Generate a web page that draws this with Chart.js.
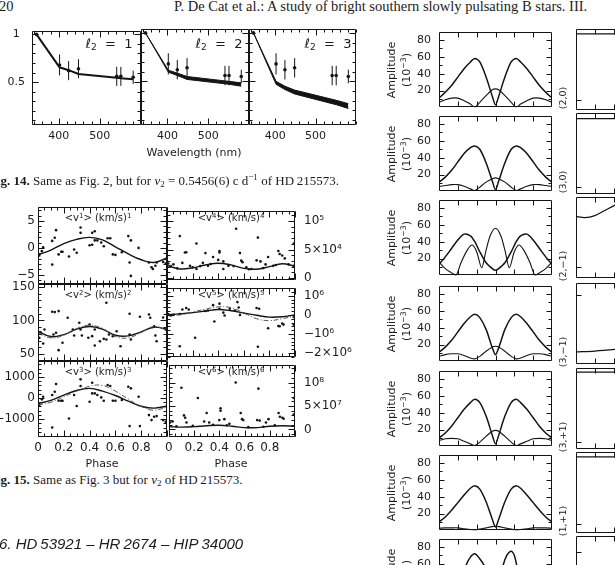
<!DOCTYPE html>
<html>
<head>
<meta charset="utf-8">
<script src="https://cdn.jsdelivr.net/npm/chart.js@4.4.1/dist/chart.umd.min.js"></script>
<style>
  html, body { margin: 0; padding: 0; background: #fff; }
  body { width: 615px; height: 565px; overflow: hidden; position: relative; font-family: "DejaVu Sans", sans-serif; color: #1c1c1c; }
  .panel { position: absolute; }
  .txt { position: absolute; white-space: nowrap; line-height: 1; }
  .txt sup { font-size: 70%; vertical-align: 0.45em; line-height: 0; }
  .txt sub { font-size: 70%; vertical-align: -0.25em; line-height: 0; }
</style>
</head>
<body>
<script>
// Fig. 14: normalised amplitudes per Geneva filter
const wavelengths = [346, 402, 424, 448, 541, 551, 581];
const ampObs = [1, 0.68, 0.62, 0.64, 0.56, 0.56, 0.55];
const ampErr = [0, 0.11, 0.1, 0.1, 0.1, 0.1, 0.07];
const modelL1 = [1, 0.655, 0.625, 0.585, 0.545, 0.54, 0.53];
const modelL2Hi = [1, 0.615, 0.585, 0.55, 0.505, 0.5, 0.485];
const modelL2Lo = [1, 0.595, 0.56, 0.52, 0.475, 0.47, 0.45];
const modelL3Hi = [1, 0.5, 0.45, 0.41, 0.315, 0.305, 0.27];
const modelL3Lo = [1, 0.47, 0.415, 0.37, 0.27, 0.26, 0.22];
const wlTicks = [400, 500];
const wlLabels = ['400', '500'];
const amp14Ticks = [0.5, 1];
const amp14Labels = ['0.5', '1'];

// Fig. 15: moments vs phase
const phaseGrid = [0, 0.1, 0.2, 0.3, 0.4, 0.5, 0.6, 0.7, 0.8, 0.9, 1];
const phaseTicks = [0, 0.2, 0.4, 0.6, 0.8, 1];
const phaseLabels = ['0', '0.2', '0.4', '0.6', '0.8', ''];

const v1Points = [[0.01,-1.4],[0.03,-0.6],[0.04,0.1],[0.11,1.3],[0.11,-3.1],[0.13,1.9],[0.14,3.3],[0.16,-1.2],[0.18,-0.7],[0.19,-0.7],[0.24,-1.6],[0.28,-0.3],[0.30,-0.9],[0.33,3.8],[0.33,2.8],[0.40,0.5],[0.42,0.6],[0.42,2.8],[0.44,3.1],[0.44,1.4],[0.46,1.4],[0.49,1.0],[0.51,0.3],[0.54,1.8],[0.56,1.8],[0.58,-1.2],[0.60,-1.3],[0.65,-0.8],[0.70,2.2],[0.72,1.4],[0.71,-2.7],[0.72,-5.2],[0.78,0.0],[0.86,-2.7],[0.88,-3.6],[0.89,-3.9],[0.91,-3.3],[0.92,-2.7],[0.97,-2.6],[0.99,-2.9]];
const v1Fit = [-1.3, -0.4, 0.8, 1.6, 1.95, 1.5, 0.2, -1.1, -2.2, -2.7, -1.8];
const v1Ticks = [-5, 0, 5];
const v1Labels = ['\u22125', '0', '5'];

const v2Points = [[0.01,74],[0.02,82.5],[0.04,65.7],[0.05,86.6],[0.11,113],[0.13,112.5],[0.16,114],[0.12,79],[0.14,81.6],[0.16,55.7],[0.19,66.7],[0.23,104],[0.27,86.6],[0.28,77.6],[0.32,96.6],[0.33,86.6],[0.34,77.6],[0.39,74.2],[0.40,94],[0.42,76.6],[0.44,62.7],[0.44,86.6],[0.48,69],[0.51,72.6],[0.53,71.6],[0.53,126.4],[0.55,79],[0.58,76.6],[0.61,84],[0.64,61.6],[0.71,110],[0.72,71.6],[0.71,79],[0.79,105.5],[0.86,109],[0.87,104],[0.90,91.5],[0.91,77.6],[0.92,69],[0.97,104.5],[0.99,86.6]];
const v2Fit = [84, 76, 79, 87, 91, 87, 78, 77, 83, 90, 87];
const v2Model = [81, 74, 78, 88, 93, 88, 76, 74, 82, 91, 85];
const v2Ticks = [50, 100, 150];
const v2Labels = ['50', '100', '150'];

const v3Points = [[0.01,-333],[0.03,-62],[0.04,62],[0.11,143],[0.11,-1397],[0.13,302],[0.14,667],[0.16,-127],[0.18,-127],[0.19,-127],[0.24,-968],[0.28,143],[0.30,-381],[0.33,889],[0.33,571],[0.40,-175],[0.42,222],[0.42,730],[0.44,222],[0.46,143],[0.49,32],[0.51,-127],[0.54,619],[0.56,571],[0.58,-127],[0.60,-127],[0.65,-95],[0.70,540],[0.72,460],[0.71,-1333],[0.78,63],[0.79,-1333],[0.86,-810],[0.88,-1048],[0.90,-889],[0.92,-857],[0.97,-1048],[0.99,-1127]];
const v3Fit = [-260, -110, 140, 360, 460, 330, 120, -150, -390, -480, -380];
const v3Model = [-330, -200, 60, 330, 560, 600, 330, -50, -400, -580, -420];
const v3Ticks = [-1000, 0, 1000];
const v3Labels = ['\u22121000', '0', '1000'];

const v4Points = [[0.01,25500],[0.03,21000],[0.05,24000],[0.08,17000],[0.10,73400],[0.12,26600],[0.14,44800],[0.15,45300],[0.18,21400],[0.20,18750],[0.23,16000],[0.23,60400],[0.26,21000],[0.28,26600],[0.30,43700],[0.32,21400],[0.34,24500],[0.36,37000],[0.40,31800],[0.41,47400],[0.41,44800],[0.44,29200],[0.44,16000],[0.48,21400],[0.52,21000],[0.54,86400],[0.57,43700],[0.58,30500],[0.59,27900],[0.62,18750],[0.64,15500],[0.66,16000],[0.70,31000],[0.71,70800],[0.73,29200],[0.75,17500],[0.77,23900],[0.79,37000],[0.83,21400],[0.85,23000],[0.87,47400],[0.88,42200],[0.90,39600],[0.92,34400],[0.95,23900],[0.99,60400],[0.99,21400]];
const v4Fit = [22000, 16000, 18000, 23000, 26000, 23000, 17000, 15500, 20000, 25000, 21000];
const v4Ticks = [0, 50000, 100000];
const v4Labels = ['0', '5\u00d710\u2074', '10\u2075'];

const v5Points = [[0.01,0.05e6],[0.03,-0.03e6],[0.05,0],[0.10,0.05e6],[0.10,-1.65e6],[0.12,0.28e6],[0.15,0.36e6],[0.17,0.28e6],[0.22,-1.2e6],[0.30,0.2e6],[0.32,0.23e6],[0.36,0.51e6],[0.37,-0.35e6],[0.41,0.32e6],[0.41,0.59e6],[0.44,0.12e6],[0.45,-0.03e6],[0.49,0.32e6],[0.53,0.23e6],[0.55,0.67e6],[0.56,0.39e6],[0.57,0],[0.70,0.36e6],[0.71,-1.67e6],[0.72,0.32e6],[0.79,-0.7e6],[0.87,-0.58e6],[0.88,-0.6e6],[0.90,-0.45e6],[0.91,-0.51e6],[0.99,-0.11e6],[0.99,-0.51e6]];
const v5Fit = [0, 0.05e6, 0.12e6, 0.2e6, 0.28e6, 0.22e6, 0.1e6, -0.02e6, -0.12e6, -0.1e6, 0];
const v5Model = [-0.05e6, 0, 0.15e6, 0.3e6, 0.42e6, 0.38e6, 0.1e6, -0.2e6, -0.3e6, -0.2e6, -0.05e6];
const v5Ticks = [-2e6, -1e6, 0, 1e6];
const v5Labels = ['\u22122\u00d710\u2076', '\u221210\u2076', '0', '10\u2076'];

const v6Points = [[0.01,0.15e8],[0.03,0.17e8],[0.06,0.07e8],[0.10,0.89e8],[0.12,0.3e8],[0.13,0.25e8],[0.14,0.15e8],[0.19,0.08e8],[0.23,0.67e8],[0.28,0.17e8],[0.30,0.35e8],[0.32,0.15e8],[0.35,0.1e8],[0.40,0.2e8],[0.41,0.45e8],[0.41,0.4e8],[0.44,0.22e8],[0.46,0.09e8],[0.48,0.12e8],[0.53,1.0e8],[0.57,0.35e8],[0.58,0.22e8],[0.59,0.2e8],[0.63,0.05e8],[0.70,0.2e8],[0.71,0.87e8],[0.72,0.19e8],[0.75,0.06e8],[0.77,0.15e8],[0.79,0.22e8],[0.84,0.09e8],[0.87,0.35e8],[0.88,0.27e8],[0.90,0.25e8],[0.91,0.23e8],[0.99,0.67e8],[0.99,0.32e8]];
const v6Fit = [6e6, 5e6, 6e6, 8e6, 9e6, 7e6, 4e6, 4e6, 7e6, 8e6, 7e6];
const v6Ticks = [0, 5e7, 1e8];
const v6Labels = ['0', '5\u00d710\u2077', '10\u2078'];

// Right figure: amplitude vs angle for each (l,m) mode
const angleGrid = [0, 10, 20, 30, 40, 50, 57, 65, 75, 85, 90, 95, 105, 115, 123, 130, 140, 150, 160, 170, 180];
const amp20Thick = [11, 18, 26, 36, 46, 54, 58, 54, 36, 13, 3, 13, 36, 54, 58, 54, 46, 36, 26, 18, 11];
const amp20Thin = [6, 9, 11, 11, 8, 4, 0.5, 6, 14, 21, 22, 21, 14, 6, 0.5, 4, 8, 11, 11, 9, 6];
const amp30Thick = [11, 17, 25, 35, 45, 52, 54, 50, 34, 12, 2, 12, 34, 50, 54, 52, 45, 35, 25, 17, 11];
const amp30Thin = [6, 7, 8, 8, 6, 3, 1, 5, 11, 15, 16, 15, 11, 5, 1, 3, 6, 8, 8, 7, 6];
const amp21Broad = [13, 22, 32, 42, 49, 47, 40, 28, 15, 8, 6, 8, 15, 28, 40, 47, 49, 42, 32, 22, 13];
const amp21Narrow = [[0,16],[10,8],[20,3],[27,0],[35,15],[45,30],[53,36],[60,28],[68,9],[75,30],[82,48],[90,56],[98,48],[105,30],[112,9],[120,28],[127,36],[135,30],[145,15],[153,0],[160,3],[170,8],[180,16]];
const amp31Thick = [11, 17, 25, 35, 45, 53, 56, 52, 38, 16, 8, 16, 38, 52, 56, 53, 45, 35, 25, 17, 11];
const amp31Thin = [6, 8, 9, 9, 7, 4, 3, 6, 12, 17, 18, 17, 12, 6, 3, 4, 7, 9, 9, 8, 6];
const amp3p1Thick = [10, 16, 24, 34, 44, 52, 56, 52, 36, 13, 3, 13, 36, 52, 56, 52, 44, 34, 24, 16, 10];
const amp3p1Thin = [7, 9, 9.5, 9, 6, 3, 1, 5, 12, 18, 19, 18, 12, 5, 1, 3, 6, 9, 9.5, 9, 7];
const amp1p1Thick = [10, 16, 24, 33, 42, 50, 53, 49, 34, 13, 4, 13, 34, 49, 53, 50, 42, 33, 24, 16, 10];
const amp1p1Thin = [2.5, 3, 3, 3, 2, 1, 0.5, 1.5, 3, 4.5, 5, 4.5, 3, 1.5, 0.5, 1, 2, 3, 3, 3, 2.5];
const amp7Curve = [[0,10],[20,20],[35,35],[43,58],[50,68],[57,72],[64,67],[72,58],[80,40],[90,25],[97,40],[102,58],[108,70],[115,75],[120,70],[124,58],[132,40],[145,25],[160,15],[180,10]];
const ampTicks = [20, 40, 60, 80];
const ampLabels = ['20', '40', '60', '80'];
const modeLabels = ['(2,0)', '(3,0)', '(2,\u22121)', '(3,\u22121)', '(3,+1)', '(1,+1)'];

// second column of that figure (only its left edge is on the page)
const sideCurves = [
  [[0,0.94],[180,0.94]],
  [[0,0.93],[180,0.93]],
  [[0,0.76],[14,0.745],[30,0.77],[45,0.83],[62,0.9],[80,0.96]],
  [[0,0.15],[30,0.16],[62,0.18],[100,0.21]],
  [[0,0.95],[180,0.95]],
  [[0,0.94],[180,0.94]],
  []
];
const sideTicks = [0.12, 0.09, 0.13, 0.85, 0.09, 0.11, 0.8];

const ink = '#141414';
Chart.defaults.font.family = '"DejaVu Sans", sans-serif';
Chart.defaults.color = '#1c1c1c';

const steps = (a, b, s) => {
  const out = [];
  for (let v = a; v <= b + s * 1e-6; v += s) out.push(+v.toFixed(6));
  return out;
};

// frame with inward tick marks on all four sides
const frameTicks = {
  id: 'frameTicks',
  afterDraw(chart, args, o) {
    if (!o || !o.x) return;
    const { ctx, chartArea: a } = chart;
    const xs = chart.scales.x;
    const ys = chart.scales.y;
    const L = Math.round(a.left) + 0.5;
    const R = Math.round(a.right) - 0.5;
    const T = Math.round(a.top) + 0.5;
    const B = Math.round(a.bottom) - 0.5;
    ctx.save();
    ctx.strokeStyle = ink;
    ctx.lineWidth = 1;
    ctx.beginPath();
    ctx.rect(L, T, R - L, B - T);
    const markX = (vals, len) => vals.forEach((v) => {
      const p = Math.round(xs.getPixelForValue(v)) + 0.5;
      ctx.moveTo(p, T); ctx.lineTo(p, T + len);
      ctx.moveTo(p, B); ctx.lineTo(p, B - len);
    });
    const markY = (vals, len) => vals.forEach((v) => {
      const p = Math.round(ys.getPixelForValue(v)) + 0.5;
      ctx.moveTo(L, p); ctx.lineTo(L + len, p);
      ctx.moveTo(R, p); ctx.lineTo(R - len, p);
    });
    markX(o.x[0], o.len[0]);
    markX(o.x[1] || [], o.len[1]);
    markY(o.y[0], o.len[0]);
    markY(o.y[1] || [], o.len[1]);
    ctx.stroke();
    ctx.restore();
  }
};
Chart.register(frameTicks);

const xy = (xs, ys) => xs.map((x, i) => ({ x, y: ys[i] }));
const pairs = (list) => list.map(([x, y]) => ({ x, y }));

const curve = (data, extra) => Object.assign({
  data, borderColor: ink, borderWidth: 1.3, pointRadius: 0, tension: 0.4, fill: false
}, extra);
const dots = (data, r) => ({
  data, showLine: false, pointRadius: r, pointBackgroundColor: ink, pointBorderWidth: 0
});

// frame = [left, top, right, bottom] of the plot area, m = margins [l, t, r, b] for labels
function panel(frame, m, cfg) {
  const [l, t, r, b] = frame;
  const box = document.createElement('div');
  box.className = 'panel';
  box.style.left = (l - m[0]) + 'px';
  box.style.top = (t - m[1]) + 'px';
  box.style.width = (r - l + m[0] + m[2]) + 'px';
  box.style.height = (b - t + m[1] + m[3]) + 'px';
  const canvas = document.createElement('canvas');
  box.appendChild(canvas);
  document.body.appendChild(box);

  const yRight = cfg.yPos === 'right';
  const showX = !!cfg.xTicks;
  const showY = !!cfg.yTicks;
  const font = { size: cfg.fontSize || 12 };

  return new Chart(canvas, {
    type: 'line',
    data: { datasets: cfg.datasets },
    options: {
      animation: false,
      responsive: true,
      maintainAspectRatio: false,
      devicePixelRatio: 1,
      events: [],
      layout: {
        padding: {
          left: showY && !yRight ? 0 : m[0],
          right: showY && yRight ? 0 : m[2],
          top: m[1],
          bottom: showX ? 0 : m[3]
        }
      },
      plugins: {
        legend: { display: false },
        tooltip: { enabled: false },
        frameTicks: cfg.ticks
      },
      scales: {
        x: {
          type: 'linear',
          min: cfg.x[0],
          max: cfg.x[1],
          display: showX,
          offset: false,
          grid: { display: false, drawTicks: false },
          border: { display: false },
          afterBuildTicks: (s) => { if (showX) s.ticks = cfg.xTicks.map((v) => ({ value: v })); },
          afterFit: (s) => { s.height = showX ? m[3] : 0; },
          ticks: {
            autoSkip: false, maxRotation: 0, padding: cfg.xPad || 4, font, color: '#1c1c1c',
            callback: (v, i) => (cfg.xLabels ? cfg.xLabels[i] : v)
          }
        },
        y: {
          type: 'linear',
          position: yRight ? 'right' : 'left',
          min: cfg.y[0],
          max: cfg.y[1],
          display: showY,
          grid: { display: false, drawTicks: false },
          border: { display: false },
          afterBuildTicks: (s) => { if (showY) s.ticks = cfg.yTicks.map((v) => ({ value: v })); },
          afterFit: (s) => { s.width = showY ? (yRight ? m[2] : m[0]) : 0; },
          ticks: {
            autoSkip: false, padding: cfg.yPad || 4, font, color: '#1c1c1c',
            crossAlign: cfg.yAlign || 'near',
            callback: (v, i) => (cfg.yLabels ? cfg.yLabels[i] : v)
          }
        }
      }
    }
  });
}

// html text: anchor 'l' = left/middle, 'c' = centre, 'rot' = centred and rotated upward
function put(html, x, y, anchor, css) {
  const el = document.createElement('div');
  el.className = 'txt';
  el.innerHTML = html;
  el.style.left = x + 'px';
  el.style.top = y + 'px';
  const tf = { l: 'translateY(-50%)', c: 'translate(-50%,-50%)', rot: 'translate(-50%,-50%) rotate(-90deg)' };
  el.style.transform = tf[anchor || 'l'];
  Object.assign(el.style, css || {});
  document.body.appendChild(el);
  return el;
}

// ---------- Fig. 14 ----------
const obsPts = xy(wavelengths, ampObs);
const errBars = wavelengths.flatMap((w, i) => (ampErr[i] > 0
  ? [{ x: w, y: ampObs[i] - ampErr[i] }, { x: w, y: ampObs[i] + ampErr[i] }, { x: w, y: null }]
  : []));
const errSet = () => curve(errBars, { borderWidth: 1, tension: 0, spanGaps: false });
const ticks14 = { x: [wlTicks, steps(340, 600, 20)], y: [[0.5, 1], steps(0.1, 1, 0.1)], len: [6, 3] };
const fig14 = [
  { frame: [32, 29, 141, 125], datasets: [curve(xy(wavelengths, modelL1), { borderWidth: 2, tension: 0 })] },
  { frame: [141, 29, 249, 125], datasets: [
    curve(xy(wavelengths, modelL2Hi), { borderWidth: 1, tension: 0 }),
    curve(xy(wavelengths, modelL2Lo), { borderWidth: 1, tension: 0, fill: '-1', backgroundColor: ink })] },
  { frame: [249, 29, 356, 125], datasets: [
    curve(xy(wavelengths, modelL3Hi), { borderWidth: 1, tension: 0 }),
    curve(xy(wavelengths, modelL3Lo), { borderWidth: 1, tension: 0, fill: '-1', backgroundColor: ink })] }
];
fig14.forEach((p, i) => {
  panel(p.frame, [i === 0 ? 32 : 6, 12, 6, 34], {
    x: [335, 600], y: [0.05, 1.04],
    xTicks: wlTicks, xLabels: wlLabels,
    yTicks: i === 0 ? amp14Ticks : null, yLabels: amp14Labels, yAlign: 'center', yPad: 7,
    fontSize: 11, xPad: 5,
    ticks: ticks14,
    datasets: [...p.datasets, errSet(), dots(obsPts, 1.8)]
  });
});
['1', '2', '3'].forEach((l, i) => {
  put('\u2113<sub>2</sub>&nbsp;&nbsp;=&nbsp;&nbsp;' + l, [109, 219, 328][i], 43, 'c', { fontSize: '13px' });
});
put('Wavelength (nm)', 194, 152, 'c', { fontSize: '11px' });

// ---------- Fig. 15 ----------
const rows15 = [207, 284, 361, 437];
const moments = [
  { pts: v1Points, fit: v1Fit, y: [-6.7, 7.6], t: v1Ticks, l: v1Labels, minor: 1, title: '&lt;v<sup>1</sup>&gt; (km/s)<sup>1</sup>' },
  { pts: v4Points, fit: v4Fit, y: [-3000, 117000], t: v4Ticks, l: v4Labels, minor: 10000, title: '&lt;v<sup>4</sup>&gt; (km/s)<sup>4</sup>' },
  { pts: v2Points, fit: v2Fit, model: v2Model, y: [39.5, 154.5], t: v2Ticks, l: v2Labels, minor: 10, title: '&lt;v<sup>2</sup>&gt; (km/s)<sup>2</sup>' },
  { pts: v5Points, fit: v5Fit, model: v5Model, y: [-2.2e6, 1.4e6], t: v5Ticks, l: v5Labels, minor: 2e5, title: '&lt;v<sup>5</sup>&gt; (km/s)<sup>5</sup>' },
  { pts: v3Points, fit: v3Fit, model: v3Model, y: [-1850, 1760], t: v3Ticks, l: v3Labels, minor: 200, title: '&lt;v<sup>3</sup>&gt; (km/s)<sup>3</sup>' },
  { pts: v6Points, fit: v6Fit, y: [-1.6e7, 1.37e8], t: v6Ticks, l: v6Labels, minor: 1e7, title: '&lt;v<sup>6</sup>&gt; (km/s)<sup>6</sup>' }
];
moments.forEach((mo, k) => {
  const row = Math.floor(k / 2);
  const right = k % 2 === 1;
  const frame = right ? [167, rows15[row], 295, rows15[row + 1]] : [38, rows15[row], 167, rows15[row + 1]];
  const bottom = row === 2;
  const sets = [];
  if (mo.model) sets.push(curve(xy(phaseGrid, mo.model), { borderWidth: 1, borderColor: '#555', borderDash: [5, 2, 1, 2] }));
  sets.push(curve(xy(phaseGrid, mo.fit), { borderWidth: 1.4 }));
  sets.push(dots(pairs(mo.pts), 1.3));
  panel(frame, right ? [6, 12, 75, bottom ? 20 : 12] : [38, 12, 6, bottom ? 20 : 12], {
    x: [0, 1], y: mo.y,
    xTicks: bottom ? phaseTicks : null, xLabels: phaseLabels,
    yTicks: mo.t, yLabels: mo.l, yPos: right ? 'right' : 'left', yPad: right ? 9 : 3,
    fontSize: 12, xPad: 4,
    ticks: { x: [phaseTicks, steps(0, 1, 0.05)], y: [mo.t, steps(Math.ceil(mo.y[0] / mo.minor) * mo.minor, mo.y[1], mo.minor)], len: [6, 3] },
    datasets: sets
  });
  put(mo.title, right ? 231 : 98, rows15[row] + 11, 'c', { fontSize: '10px' });
});
put('Phase', 102, 463, 'c', { fontSize: '11px' });
put('Phase', 231, 463, 'c', { fontSize: '11px' });

// ---------- amplitude panels ----------
const ampTops = [29, 113, 197, 283, 368, 452, 536];
const ampSets = [
  [xy(angleGrid, amp20Thick), xy(angleGrid, amp20Thin)],
  [xy(angleGrid, amp30Thick), xy(angleGrid, amp30Thin)],
  [xy(angleGrid, amp21Broad), pairs(amp21Narrow)],
  [xy(angleGrid, amp31Thick), xy(angleGrid, amp31Thin)],
  [xy(angleGrid, amp3p1Thick), xy(angleGrid, amp3p1Thin)],
  [xy(angleGrid, amp1p1Thick), xy(angleGrid, amp1p1Thin)],
  [pairs(amp7Curve)]
];
const angTicks = [30, 60, 90, 120, 150];
ampTops.forEach((top, i) => {
  const sets = ampSets[i].map((d, j) => curve(d, { borderWidth: j === 0 ? 1.5 : 1.1, tension: 0.3 }));
  panel([439, top, 552, top + 81], [34, 12, 6, 12], {
    x: [0, 180], y: [0, 90],
    yTicks: ampTicks, yLabels: ampLabels, yPad: 8, fontSize: 11,
    ticks: { x: [angTicks, []], y: [ampTicks, [10, 30, 50, 70]], len: [5, 3] },
    datasets: sets
  });
  panel([576, top, 689, top + 81], [6, 12, 6, 12], {
    x: [0, 180], y: [0, 1],
    ticks: { x: [angTicks, []], y: [[sideTicks[i]], []], len: [5, 3] },
    datasets: sideCurves[i].length ? [curve(pairs(sideCurves[i]), { borderWidth: 1.3, tension: 0.3 })] : []
  });
  put('Amplitude', 391, top + 41, 'rot', { fontSize: '11px' });
  put('(10<sup>\u22123</sup>)', 406, top + 41, 'rot', { fontSize: '11px' });
  if (modeLabels[i]) put(modeLabels[i], 563, top + 69, 'rot', { fontSize: '9.5px' });
});

// ---------- page text ----------
const serif = '"Liberation Serif", serif';
put('20', -1, 6, 'l', { fontFamily: serif, fontSize: '14.5px' });
put('P. De Cat et al.: A study of bright southern slowly pulsating B stars. III.', 174, 6, 'l',
  { fontFamily: serif, fontSize: '14.5px' });
put('<b>Fig. 14.</b> Same as Fig. 2, but for <i>\u03bd</i><sub>2</sub> = 0.5456(6) c d<sup>\u22121</sup> of HD\u2009215573.',
  -11, 180, 'l', { fontFamily: serif, fontSize: '13px' });
put('<b>Fig. 15.</b> Same as Fig. 3 but for <i>\u03bd</i><sub>2</sub> of HD\u2009215573.',
  -11, 479, 'l', { fontFamily: serif, fontSize: '13px' });
put('6. HD\u200953921 \u2013 HR\u20092674 \u2013 HIP\u200934000', -1, 543, 'l',
  { fontFamily: '"Liberation Sans", sans-serif', fontStyle: 'italic', fontSize: '15px' });
</script>
</body>
</html>
